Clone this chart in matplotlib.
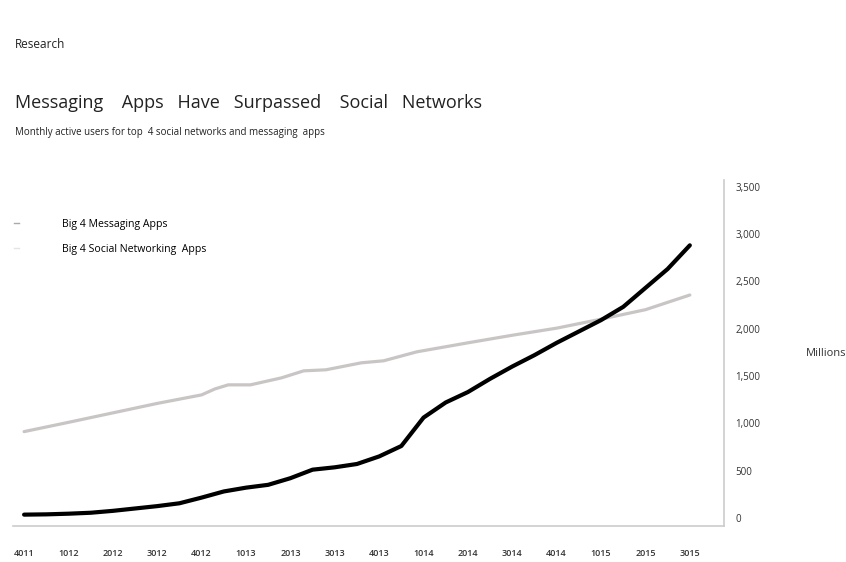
import numpy as np
import matplotlib
matplotlib.use("Agg")
import matplotlib.pyplot as plt
from matplotlib.lines import Line2D

plt.rcParams['font.family'] = ['Open Sans', 'DejaVu Sans']

# quarter labels as printed on the chart
quarters = ["4011", "1012", "2012", "3012", "4012", "1013", "2013", "3013",
            "4013", "1014", "2014", "3014", "4014", "1015", "2015", "3015"]

# messaging apps (millions), sampled every half quarter
msg_t = [0, 0.5, 1, 1.5, 2, 2.5, 3, 3.5, 4, 4.5, 5, 5.5, 6, 6.5, 7, 7.5,
         8, 8.5, 9, 9.5, 10, 10.5, 11, 11.5, 12, 12.5, 13, 13.5, 14, 14.5, 15]
msg_users = [35, 38, 45, 55, 75, 100, 125, 155, 215, 280, 320, 350, 420, 510,
             535, 570, 650, 760, 1060, 1220, 1330, 1470, 1600, 1720, 1850,
             1970, 2090, 2230, 2430, 2630, 2880]

# social networks (millions)
soc_t = [0, 1, 2, 3, 4, 4.3, 4.6, 5.1, 5.8, 6.3, 6.8, 7.6, 8.1, 8.85,
         10, 11, 12, 13, 14, 15]
soc_users = [912, 1010, 1110, 1210, 1300, 1363, 1406, 1406, 1480, 1554,
             1565, 1639, 1660, 1755, 1850, 1930, 2005, 2100, 2200, 2355]

yticks = [0, 500, 1000, 1500, 2000, 2500, 3000, 3500]

fig = plt.figure(figsize=(8.46, 5.62), dpi=100)
ax = fig.add_axes([13 / 846, 36 / 562, 711 / 846, 346 / 562])

ax.plot(soc_t, soc_users, color='#c9c5c5', lw=2.3, solid_capstyle='round',
        solid_joinstyle='round')
ax.plot(msg_t, msg_users, color='black', lw=3.0, solid_capstyle='round',
        solid_joinstyle='round')

ax.set_xlim(-0.25, 15.77)
ax.set_ylim(-85, 3570)

ax.set_xticks(range(len(quarters)))
ax.set_xticklabels(quarters, fontsize=6.5, color='#333333', fontweight='semibold')
ax.set_yticks(yticks)
ax.set_yticklabels(["{:,}".format(v) for v in yticks], fontsize=7, color='#333333')
ax.yaxis.tick_right()
ax.tick_params(axis='both', length=0)
ax.tick_params(axis='x', pad=16.5)
ax.tick_params(axis='y', pad=8)

for s in ['top', 'left']:
    ax.spines[s].set_visible(False)
for s in ['bottom', 'right']:
    ax.spines[s].set_color('#cccccc')
    ax.spines[s].set_linewidth(1.2)

fig.text(806 / 846, 1 - 353 / 562, "Millions", fontsize=8, color='#333333', va='center')

fig.text(15 / 846, 1 - 44 / 562, "Research", fontsize=8.5, color='#222222', va='center')
fig.text(15 / 846, 1 - 103 / 562,
         "Messaging    Apps   Have   Surpassed    Social   Networks",
         fontsize=13, color='#222222', va='center')
fig.text(15 / 846, 1 - 132 / 562,
         "Monthly active users for top  4 social networks and messaging  apps",
         fontsize=7, color='#222222', va='center')

handles = [Line2D([], [], color='#aaaaaa', lw=1),
           Line2D([], [], color='#e4e4e4', lw=1)]
fig.legend(handles, ["Big 4 Messaging Apps", "Big 4 Social Networking  Apps"],
           loc='upper left', bbox_to_anchor=(14 / 846, 1 - 219 / 562),
           frameon=False, fontsize=7.6, handlelength=0.5, handletextpad=4.0,
           labelspacing=1.3, borderpad=0, borderaxespad=0)

fig.savefig("out.png", dpi=100)
